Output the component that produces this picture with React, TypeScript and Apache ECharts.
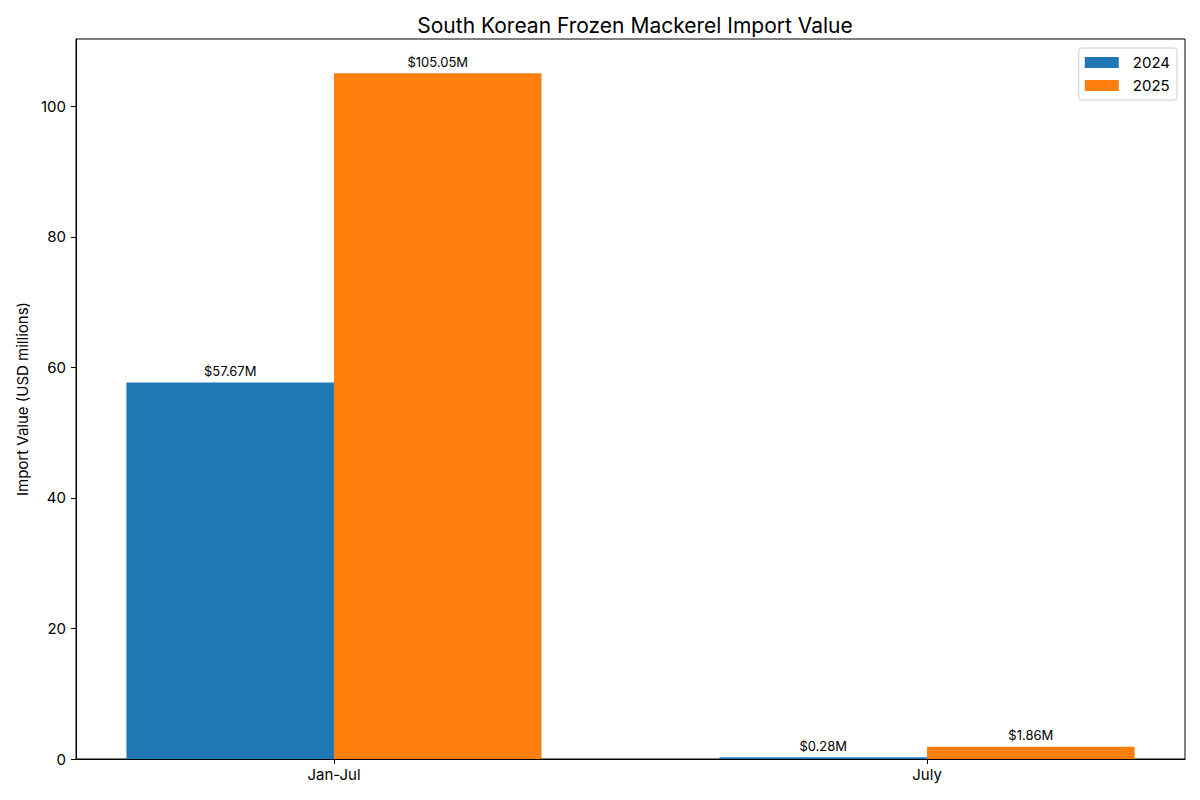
import React, { useEffect, useRef } from "react";
import * as echarts from "echarts";

const categories = ["Jan-Jul", "July"];
const seriesNames = ["2024", "2025"];
const values2024 = [57.67, 0.28];
const values2025 = [105.05, 1.86];
const yTicks = [0, 20, 40, 60, 80, 100];
const colors = ["#1f77b4", "#ff7f0e"];

const FONT = "Inter, 'DejaVu Sans', sans-serif";
const BAR_W = 0.35;

function makeSeries(name: string, values: number[], offset: number, color: string) {
  return {
    type: "custom",
    name,
    itemStyle: { color },
    data: values.map((v, i) => [i, v]),
    renderItem: (params: any, api: any) => {
      const cat = api.value(0);
      const v = api.value(1);
      const p0 = api.coord([cat + offset, v]);
      const p1 = api.coord([cat + offset + BAR_W, 0]);
      return {
        type: "group",
        children: [
          {
            type: "rect",
            shape: { x: p0[0], y: p0[1], width: p1[0] - p0[0], height: p1[1] - p0[1] },
            style: { fill: color },
          },
          {
            type: "text",
            style: {
              text: "$" + v.toFixed(2) + "M",
              x: (p0[0] + p1[0]) / 2,
              y: p0[1] - 5,
              align: "center",
              verticalAlign: "bottom",
              fontSize: 13,
              fontFamily: FONT,
              fill: "#000",
            },
          },
        ],
      };
    },
  };
}

export default function App() {
  const ref = useRef<HTMLDivElement>(null);
  useEffect(() => {
    document.body.style.margin = "0";
    const chart = echarts.init(ref.current!, null, { renderer: "svg" });
    chart.setOption({
      animation: false,
      color: colors,
      textStyle: { fontFamily: FONT },
      title: {
        text: "South Korean Frozen Mackerel Import Value",
        left: 630,
        textAlign: "center",
        top: 10,
        textStyle: { fontSize: 21, fontWeight: "normal", color: "#000", fontFamily: FONT },
      },
      legend: {
        orient: "vertical",
        right: 23,
        top: 48,
        data: seriesNames.map((n) => ({ name: n, icon: "rect" })),
        itemWidth: 34,
        itemHeight: 11,
        itemGap: 8,
        padding: [7, 7, 7, 6],
        borderColor: "#cccccc",
        borderWidth: 1,
        borderRadius: 3,
        textStyle: { fontSize: 15, color: "#000", fontFamily: FONT, padding: [0, 0, 0, 9] },
      },
      grid: {
        left: 76,
        right: 15,
        top: 39,
        bottom: 41,
        show: true,
        borderColor: "#000",
        borderWidth: 1,
      },
      xAxis: {
        type: "value",
        min: -0.435,
        max: 1.435,
        splitLine: { show: false },
        axisLine: { show: true, onZero: false, lineStyle: { color: "#000" } },
        axisTick: { show: true, length: 5, customValues: [0, 1], lineStyle: { color: "#000" } },
        axisLabel: {
          customValues: [0, 1],
          formatter: (v: number) => categories[Math.round(v)] ?? "",
          fontSize: 15,
          color: "#000",
          margin: 8,
          fontFamily: FONT,
        },
      },
      yAxis: {
        type: "value",
        min: 0,
        max: 110.3,
        name: "Import Value (USD millions)",
        nameLocation: "middle",
        nameGap: 45,
        nameTextStyle: { fontSize: 15, color: "#000", fontFamily: FONT },
        splitLine: { show: false },
        axisLine: { show: true, onZero: false, lineStyle: { color: "#000" } },
        axisTick: { show: true, length: 5, customValues: yTicks, lineStyle: { color: "#000" } },
        axisLabel: {
          customValues: yTicks,
          fontSize: 15,
          color: "#000",
          margin: 10,
          fontFamily: FONT,
        },
      },
      series: [
        makeSeries(seriesNames[0], values2024, -BAR_W, colors[0]),
        makeSeries(seriesNames[1], values2025, 0, colors[1]),
      ],
    });
    return () => chart.dispose();
  }, []);
  return <div ref={ref} style={{ width: 1200, height: 800 }} />;
}
